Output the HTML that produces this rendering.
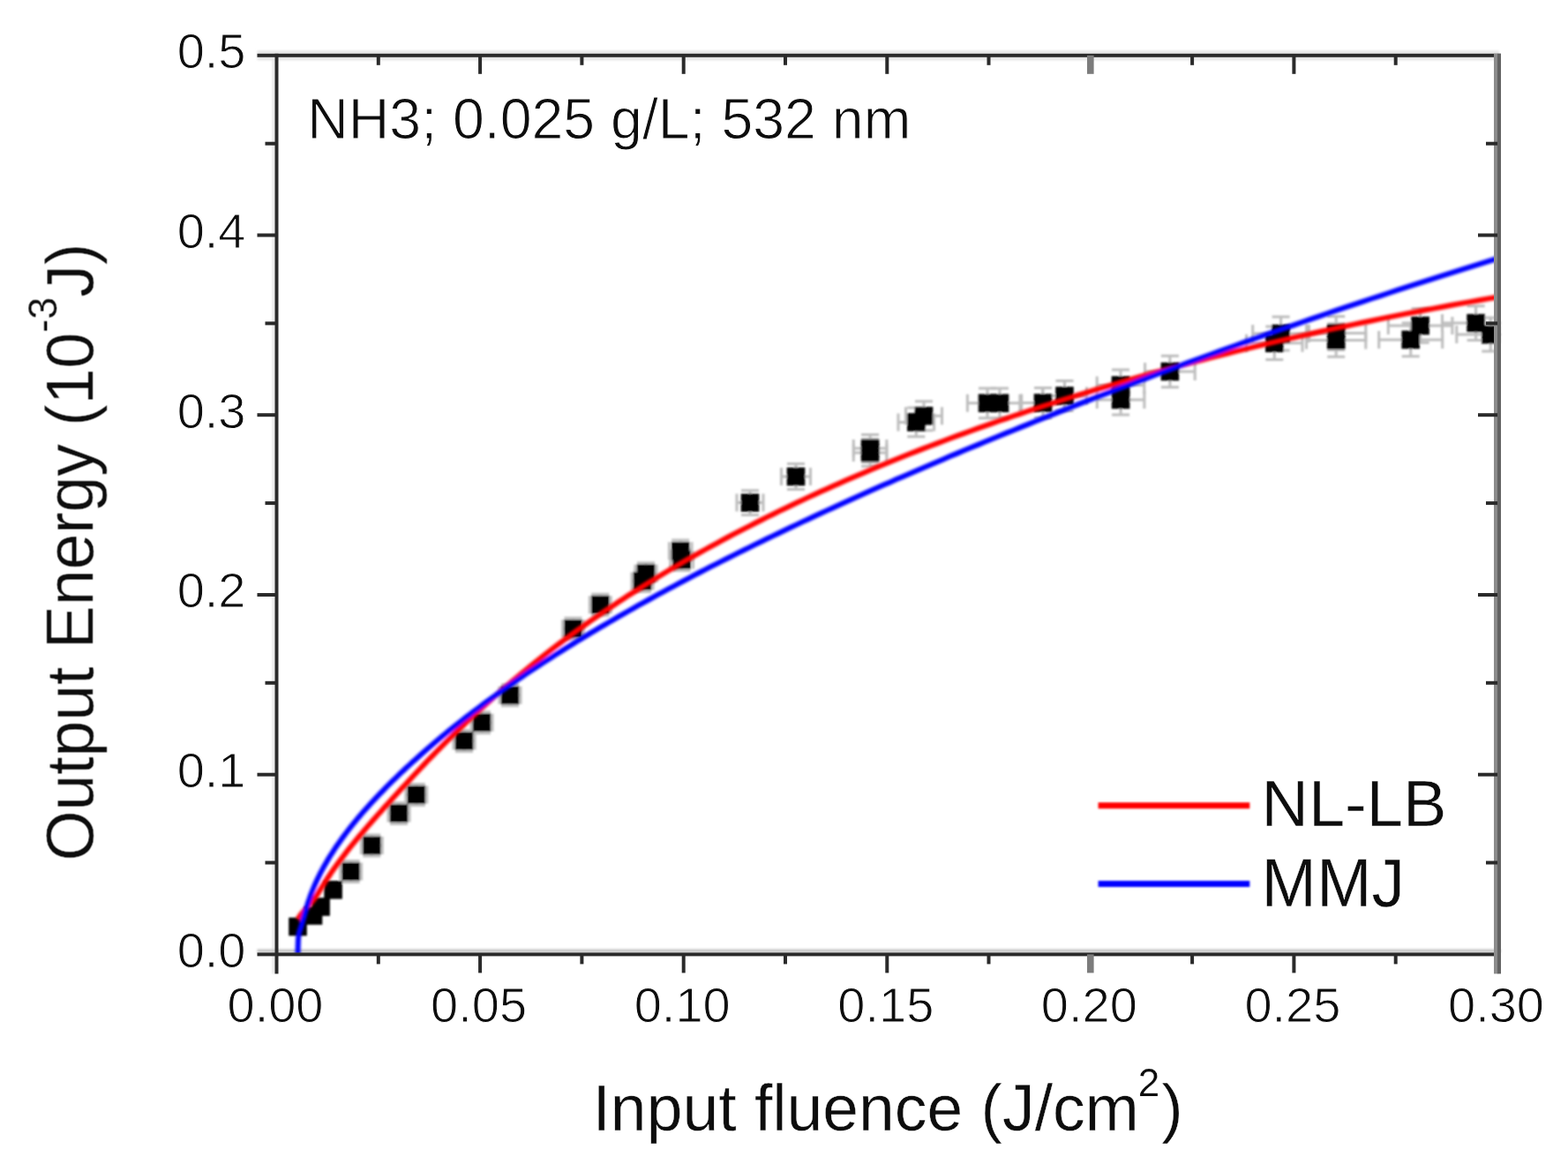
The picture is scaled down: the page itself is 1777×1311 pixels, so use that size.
<!DOCTYPE html>
<html lang="en"><head><meta charset="utf-8"><title>Output Energy vs Input fluence</title>
<style>html,body{margin:0;padding:0;background:#fff;}body{width:1777px;height:1311px;overflow:hidden;}svg{display:block;}text{font-family:"Liberation Sans",sans-serif;fill:#0a0a0a;stroke:#fff;stroke-linejoin:round;}.tk{stroke-width:1px}.tt{stroke-width:1px}.lb{stroke-width:.4px}.lg{stroke-width:.4px}.sp{stroke-width:.2px}</style></head><body>
<svg width="1777" height="1311" viewBox="0 0 1777 1311">
<defs><filter id="cv" x="-5%" y="-5%" width="110%" height="110%"><feGaussianBlur stdDeviation="1.4"/></filter><filter id="a" x="-5%" y="-5%" width="110%" height="110%"><feGaussianBlur stdDeviation="0.7"/></filter><filter id="t" x="-5%" y="-5%" width="110%" height="110%"><feGaussianBlur stdDeviation="0.7"/></filter><filter id="b" x="-5%" y="-5%" width="110%" height="110%"><feGaussianBlur stdDeviation="1.1"/></filter><clipPath id="c"><rect x="311" y="60" width="1390" height="1024"/></clipPath><clipPath id="c2"><rect x="311" y="60" width="1386" height="1021"/></clipPath></defs>
<rect width="1777" height="1311" fill="#fff"/>
<g filter="url(#b)">
<rect x="308.5" y="60.8" width="3" height="1042.6" fill="#e6e6e6"/>
<rect x="291.5" y="57.3" width="1407.5" height="11" fill="#e6e6e6"/>
<rect x="291.5" y="1075.4" width="1409.5" height="4" fill="#c8c8c8"/>
</g>
<g filter="url(#b)">
<g stroke="#bdbdbd" stroke-width="3" fill="none" clip-path="url(#c)">
<path d="M385.6,987.5H409.6M385.6,977.5v20M409.6,977.5v20"/>
<path d="M397.6,975.5V999.5M387.6,975.5h20M387.6,999.5h20"/>
<path d="M409.3,958.0H433.3M409.3,948.0v20M433.3,948.0v20"/>
<path d="M421.3,946.0V970.0M411.3,946.0h20M411.3,970.0h20"/>
<path d="M440.0,921.5H464.0M440.0,911.5v20M464.0,911.5v20"/>
<path d="M452.0,909.5V933.5M442.0,909.5h20M442.0,933.5h20"/>
<path d="M459.8,900.5H483.8M459.8,890.5v20M483.8,890.5v20"/>
<path d="M471.8,888.5V912.5M461.8,888.5h20M461.8,912.5h20"/>
<path d="M514.0,839.5H538.0M514.0,829.5v20M538.0,829.5v20"/>
<path d="M526.0,827.5V851.5M516.0,827.5h20M516.0,851.5h20"/>
<path d="M534.0,818.7H558.0M534.0,808.7v20M558.0,808.7v20"/>
<path d="M546.0,806.7V830.7M536.0,806.7h20M536.0,830.7h20"/>
<path d="M566.0,787.8H590.0M566.0,777.8v20M590.0,777.8v20"/>
<path d="M578.0,775.8V799.8M568.0,775.8h20M568.0,799.8h20"/>
<path d="M637.5,712.3H661.5M637.5,702.3v20M661.5,702.3v20"/>
<path d="M649.5,700.3V724.3M639.5,700.3h20M639.5,724.3h20"/>
<path d="M668.3,685.2H692.3M668.3,675.2v20M692.3,675.2v20"/>
<path d="M680.3,673.2V697.2M670.3,673.2h20M670.3,697.2h20"/>
<path d="M720.0,649.7H744.0M720.0,639.7v20M744.0,639.7v20"/>
<path d="M732.0,637.7V661.7M722.0,637.7h20M722.0,661.7h20"/>
<path d="M716.0,658.4H740.0M716.0,648.4v20M740.0,648.4v20"/>
<path d="M728.0,646.4V670.4M718.0,646.4h20M718.0,670.4h20"/>
<path d="M758.4,624.3H784.0M758.4,614.3v20M784.0,614.3v20"/>
<path d="M771.2,612.0V636.6M761.2,612.0h20M761.2,636.6h20"/>
<path d="M759.7,634.5H785.5M759.7,624.5v20M785.5,624.5v20"/>
<path d="M772.6,622.4V646.6M762.6,622.4h20M762.6,646.6h20"/>
<path d="M835.0,569.6H865.0M835.0,559.6v20M865.0,559.6v20"/>
<path d="M850.0,555.8V583.4M840.0,555.8h20M840.0,583.4h20"/>
<path d="M885.5,540.0H918.5M885.5,530.0v20M918.5,530.0v20"/>
<path d="M902.0,525.4V554.6M892.0,525.4h20M892.0,554.6h20"/>
<path d="M967.3,508.0H1004.9M967.3,498.0v20M1004.9,498.0v20"/>
<path d="M986.1,492.5V523.5M976.1,492.5h20M976.1,523.5h20"/>
<path d="M967.3,513.0H1004.9M967.3,503.0v20M1004.9,503.0v20"/>
<path d="M986.1,497.7V528.3M976.1,497.7h20M976.1,528.3h20"/>
<path d="M1018.0,478.4H1058.6M1018.0,468.4v20M1058.6,468.4v20"/>
<path d="M1038.3,462.1V494.7M1028.3,462.1h20M1028.3,494.7h20"/>
<path d="M1026.5,471.2H1067.5M1026.5,461.2v20M1067.5,461.2v20"/>
<path d="M1047.0,454.7V487.7M1037.0,454.7h20M1037.0,487.7h20"/>
<path d="M1096.4,456.8H1141.6M1096.4,446.8v20M1141.6,446.8v20"/>
<path d="M1119.0,439.9V473.7M1109.0,439.9h20M1109.0,473.7h20"/>
<path d="M1110.1,456.8H1155.9M1110.1,446.8v20M1155.9,446.8v20"/>
<path d="M1133.0,439.9V473.7M1123.0,439.9h20M1123.0,473.7h20"/>
<path d="M1157.7,456.5H1206.3M1157.7,446.5v20M1206.3,446.5v20"/>
<path d="M1182.0,439.6V473.4M1172.0,439.6h20M1172.0,473.4h20"/>
<path d="M1181.5,448.5H1231.5M1181.5,438.5v20M1231.5,438.5v20"/>
<path d="M1206.5,431.4V465.6M1196.5,431.4h20M1196.5,465.6h20"/>
<path d="M1243.2,436.5H1296.8M1243.2,426.5v20M1296.8,426.5v20"/>
<path d="M1270.0,419.1V453.9M1260.0,419.1h20M1260.0,453.9h20"/>
<path d="M1243.3,452.9H1296.9M1243.3,442.9v20M1296.9,442.9v20"/>
<path d="M1270.1,435.9V469.9M1260.1,435.9h20M1260.1,469.9h20"/>
<path d="M1297.6,421.0H1354.2M1297.6,411.0v20M1354.2,411.0v20"/>
<path d="M1325.9,403.2V438.8M1315.9,403.2h20M1315.9,438.8h20"/>
<path d="M1419.7,378.0H1483.5M1419.7,368.0v20M1483.5,368.0v20"/>
<path d="M1451.6,359.0V397.0M1441.6,359.0h20M1441.6,397.0h20"/>
<path d="M1412.6,388.8H1476.0M1412.6,378.8v20M1476.0,378.8v20"/>
<path d="M1444.3,370.1V407.5M1434.3,370.1h20M1434.3,407.5h20"/>
<path d="M1480.6,377.5H1547.8M1480.6,367.5v20M1547.8,367.5v20"/>
<path d="M1514.2,358.5V396.5M1504.2,358.5h20M1504.2,396.5h20"/>
<path d="M1480.6,385.5H1547.8M1480.6,375.5v20M1547.8,375.5v20"/>
<path d="M1514.2,366.7V404.3M1504.2,366.7h20M1504.2,404.3h20"/>
<path d="M1573.3,369.0H1645.9M1573.3,359.0v20M1645.9,359.0v20"/>
<path d="M1609.6,349.8V388.2M1599.6,349.8h20M1599.6,388.2h20"/>
<path d="M1562.7,384.9H1634.7M1562.7,374.9v20M1634.7,374.9v20"/>
<path d="M1598.7,366.1V403.7M1588.7,366.1h20M1588.7,403.7h20"/>
<path d="M1634.5,366.1H1710.7M1634.5,356.1v20M1710.7,356.1v20"/>
<path d="M1672.6,346.8V385.4M1662.6,346.8h20M1662.6,385.4h20"/>
<path d="M1650.8,379.1H1727.8M1650.8,369.1v20M1727.8,369.1v20"/>
<path d="M1689.3,360.1V398.1M1679.3,360.1h20M1679.3,398.1h20"/>
</g>
<g fill="#000" clip-path="url(#c)">
<rect x="327.2" y="1039.7" width="20.6" height="20.6"/>
<rect x="344.7" y="1027.2" width="20.6" height="20.6"/>
<rect x="353.3" y="1017.2" width="20.6" height="20.6"/>
<rect x="367.3" y="998.0" width="20.6" height="20.6"/>
<rect x="387.3" y="977.2" width="20.6" height="20.6"/>
<rect x="411.0" y="947.7" width="20.6" height="20.6"/>
<rect x="441.7" y="911.2" width="20.6" height="20.6"/>
<rect x="461.5" y="890.2" width="20.6" height="20.6"/>
<rect x="515.7" y="829.2" width="20.6" height="20.6"/>
<rect x="535.7" y="808.4" width="20.6" height="20.6"/>
<rect x="567.7" y="777.5" width="20.6" height="20.6"/>
<rect x="639.2" y="702.0" width="20.6" height="20.6"/>
<rect x="670.0" y="674.9" width="20.6" height="20.6"/>
<rect x="721.7" y="639.4" width="20.6" height="20.6"/>
<rect x="717.7" y="648.1" width="20.6" height="20.6"/>
<rect x="760.9" y="614.0" width="20.6" height="20.6"/>
<rect x="762.3" y="624.2" width="20.6" height="20.6"/>
<rect x="839.7" y="559.3" width="20.6" height="20.6"/>
<rect x="891.7" y="529.7" width="20.6" height="20.6"/>
<rect x="975.8" y="497.7" width="20.6" height="20.6"/>
<rect x="975.8" y="502.7" width="20.6" height="20.6"/>
<rect x="1028.0" y="468.1" width="20.6" height="20.6"/>
<rect x="1036.7" y="460.9" width="20.6" height="20.6"/>
<rect x="1108.7" y="446.5" width="20.6" height="20.6"/>
<rect x="1122.7" y="446.5" width="20.6" height="20.6"/>
<rect x="1171.7" y="446.2" width="20.6" height="20.6"/>
<rect x="1196.2" y="438.2" width="20.6" height="20.6"/>
<rect x="1259.7" y="426.2" width="20.6" height="20.6"/>
<rect x="1259.8" y="442.6" width="20.6" height="20.6"/>
<rect x="1315.6" y="410.7" width="20.6" height="20.6"/>
<rect x="1441.3" y="367.7" width="20.6" height="20.6"/>
<rect x="1434.0" y="378.5" width="20.6" height="20.6"/>
<rect x="1503.9" y="367.2" width="20.6" height="20.6"/>
<rect x="1503.9" y="375.2" width="20.6" height="20.6"/>
<rect x="1599.3" y="358.7" width="20.6" height="20.6"/>
<rect x="1588.4" y="374.6" width="20.6" height="20.6"/>
<rect x="1662.3" y="355.8" width="20.6" height="20.6"/>
<rect x="1679.0" y="368.8" width="20.6" height="20.6"/>
</g>
</g>
<g filter="url(#cv)"><g clip-path="url(#c2)">
<path d="M337.5,1041.6 L337.5,1041.6 L337.6,1041.5 L337.7,1041.3 L337.8,1041.1 L338.0,1040.8 L338.2,1040.4 L338.5,1040.0 L338.8,1039.5 L339.1,1039.0 L339.5,1038.4 L340.0,1037.8 L340.4,1037.1 L340.9,1036.4 L341.5,1035.7 L342.1,1035.0 L342.7,1034.2 L343.4,1033.4 L344.1,1032.6 L344.8,1031.7 L345.6,1030.8 L346.4,1029.9 L347.3,1028.9 L348.2,1027.9 L349.2,1026.9 L350.2,1025.8 L351.2,1024.7 L352.3,1023.4 L353.4,1022.1 L354.5,1020.7 L355.7,1019.1 L357.0,1017.5 L358.3,1015.6 L359.6,1013.6 L360.9,1011.5 L362.3,1009.2 L363.8,1006.9 L365.2,1004.5 L366.8,1002.0 L368.3,999.5 L369.9,997.0 L371.6,994.5 L373.3,992.0 L375.0,989.4 L376.7,986.9 L378.5,984.3 L380.4,981.7 L382.3,979.1 L384.2,976.5 L386.2,973.9 L388.2,971.2 L390.2,968.6 L392.3,965.9 L394.4,963.2 L396.6,960.4 L398.8,957.7 L401.1,954.9 L403.3,952.1 L405.7,949.3 L408.0,946.5 L410.5,943.6 L412.9,940.8 L415.4,937.9 L417.9,934.9 L420.5,932.0 L423.1,929.0 L425.8,926.0 L428.5,922.9 L431.2,919.9 L434.0,916.8 L436.8,913.6 L439.7,910.5 L442.6,907.3 L445.5,904.0 L448.5,900.8 L451.5,897.5 L454.6,894.1 L457.7,890.8 L460.8,887.4 L464.0,883.9 L467.2,880.5 L470.5,877.0 L473.8,873.5 L477.1,870.0 L480.5,866.4 L483.9,862.8 L487.4,859.2 L490.9,855.6 L494.4,852.0 L498.0,848.3 L501.7,844.7 L505.3,841.0 L509.0,837.3 L512.8,833.6 L516.6,829.9 L520.4,826.2 L524.3,822.5 L528.2,818.7 L532.1,815.0 L536.1,811.3 L540.2,807.5 L544.2,803.8 L548.4,800.0 L552.5,796.3 L556.7,792.5 L560.9,788.8 L565.2,785.0 L569.5,781.3 L573.9,777.5 L578.3,773.8 L582.7,770.0 L587.2,766.3 L591.7,762.5 L596.3,758.8 L600.9,755.0 L605.5,751.3 L610.2,747.6 L614.9,743.9 L619.7,740.1 L624.5,736.4 L629.3,732.7 L634.2,729.0 L639.1,725.3 L644.1,721.7 L649.1,718.0 L654.2,714.3 L659.3,710.7 L664.4,707.0 L669.5,703.4 L674.8,699.8 L680.0,696.1 L685.3,692.5 L690.6,688.9 L696.0,685.4 L701.4,681.8 L706.9,678.2 L712.3,674.6 L717.9,671.1 L723.5,667.6 L729.1,664.0 L734.7,660.5 L740.4,657.0 L746.2,653.5 L751.9,650.0 L757.7,646.5 L763.6,643.1 L769.5,639.6 L775.4,636.2 L781.4,632.7 L787.4,629.3 L793.5,625.9 L799.6,622.5 L805.7,619.1 L811.9,615.8 L818.1,612.4 L824.4,609.0 L830.7,605.7 L837.1,602.4 L843.4,599.1 L849.9,595.8 L856.3,592.5 L862.8,589.2 L869.4,585.9 L876.0,582.7 L882.6,579.4 L889.3,576.2 L896.0,573.0 L902.7,569.8 L909.5,566.6 L916.3,563.4 L923.2,560.2 L930.1,557.1 L937.1,553.9 L944.1,550.8 L951.1,547.7 L958.2,544.6 L965.3,541.5 L972.4,538.4 L979.6,535.4 L986.9,532.3 L994.1,529.3 L1001.5,526.3 L1008.8,523.3 L1016.2,520.3 L1023.6,517.3 L1031.1,514.3 L1038.6,511.4 L1046.2,508.4 L1053.8,505.5 L1061.4,502.6 L1069.1,499.7 L1076.8,496.8 L1084.6,493.9 L1092.4,491.1 L1100.3,488.2 L1108.1,485.4 L1116.1,482.6 L1124.0,479.8 L1132.0,477.0 L1140.1,474.3 L1148.2,471.5 L1156.3,468.8 L1164.5,466.0 L1172.7,463.3 L1180.9,460.6 L1189.2,458.0 L1197.5,455.3 L1205.9,452.6 L1214.3,450.0 L1222.8,447.4 L1231.3,444.8 L1239.8,442.2 L1248.4,439.6 L1257.0,437.1 L1265.6,434.5 L1274.3,432.0 L1283.1,429.5 L1291.8,427.0 L1300.6,424.5 L1309.5,422.0 L1318.4,419.6 L1327.3,417.1 L1336.3,414.7 L1345.3,412.3 L1354.4,409.9 L1363.5,407.5 L1372.6,405.2 L1381.8,402.8 L1391.0,400.5 L1400.3,398.2 L1409.6,395.9 L1418.9,393.6 L1428.3,391.4 L1437.8,389.1 L1447.2,386.9 L1456.7,384.7 L1466.3,382.5 L1475.9,380.3 L1485.5,378.2 L1495.1,376.0 L1504.9,373.9 L1514.6,371.8 L1524.4,369.7 L1534.2,367.6 L1544.1,365.5 L1554.0,363.5 L1564.0,361.4 L1573.9,359.4 L1584.0,357.4 L1594.0,355.4 L1604.2,353.5 L1614.3,351.5 L1624.5,349.6 L1634.7,347.7 L1645.0,345.8 L1655.3,343.9 L1665.7,342.1 L1676.1,340.2 L1686.5,338.4 L1697.0,336.6" fill="none" stroke="#ff0000" stroke-width="6" stroke-linejoin="round"/>
<path d="M337.1,1121.7 L337.1,1116.7 L337.1,1106.1 L337.2,1094.9 L337.4,1084.8 L337.6,1076.5 L337.8,1069.8 L338.0,1064.7 L338.3,1061.0 L338.7,1058.3 L339.1,1056.4 L339.5,1054.9 L340.0,1053.7 L340.5,1052.3 L341.0,1050.6 L341.6,1048.7 L342.2,1046.5 L342.9,1044.2 L343.6,1041.6 L344.4,1039.0 L345.2,1036.1 L346.0,1033.2 L346.9,1030.2 L347.8,1027.2 L348.7,1024.1 L349.7,1021.0 L350.8,1018.0 L351.8,1015.0 L352.9,1012.0 L354.1,1009.0 L355.3,1006.1 L356.5,1003.2 L357.8,1000.3 L359.1,997.4 L360.5,994.6 L361.9,991.7 L363.3,988.9 L364.8,986.1 L366.3,983.3 L367.9,980.5 L369.5,977.7 L371.1,974.9 L372.8,972.1 L374.5,969.3 L376.3,966.6 L378.1,963.8 L379.9,961.0 L381.8,958.2 L383.8,955.4 L385.7,952.7 L387.7,949.9 L389.8,947.1 L391.9,944.3 L394.0,941.5 L396.2,938.7 L398.4,935.9 L400.6,933.2 L402.9,930.4 L405.2,927.5 L407.6,924.7 L410.0,921.9 L412.5,919.1 L415.0,916.3 L417.5,913.5 L420.1,910.6 L422.7,907.8 L425.4,904.9 L428.1,902.0 L430.8,899.2 L433.6,896.3 L436.4,893.4 L439.2,890.5 L442.1,887.6 L445.1,884.7 L448.1,881.8 L451.1,878.9 L454.1,875.9 L457.3,873.0 L460.4,870.0 L463.6,867.1 L466.8,864.1 L470.1,861.2 L473.4,858.2 L476.7,855.2 L480.1,852.2 L483.5,849.2 L487.0,846.2 L490.5,843.2 L494.0,840.2 L497.6,837.2 L501.3,834.2 L504.9,831.2 L508.6,828.2 L512.4,825.2 L516.2,822.1 L520.0,819.1 L523.9,816.0 L527.8,813.0 L531.8,810.0 L535.7,806.9 L539.8,803.9 L543.9,800.8 L548.0,797.7 L552.1,794.7 L556.3,791.6 L560.6,788.6 L564.8,785.5 L569.2,782.4 L573.5,779.3 L577.9,776.3 L582.4,773.2 L586.8,770.1 L591.4,767.0 L595.9,763.9 L600.5,760.8 L605.2,757.8 L609.8,754.7 L614.6,751.6 L619.3,748.5 L624.1,745.4 L629.0,742.3 L633.9,739.2 L638.8,736.1 L643.8,733.0 L648.8,729.9 L653.8,726.8 L658.9,723.7 L664.0,720.6 L669.2,717.4 L674.4,714.3 L679.7,711.2 L685.0,708.1 L690.3,705.0 L695.7,701.9 L701.1,698.7 L706.5,695.6 L712.0,692.5 L717.6,689.4 L723.1,686.2 L728.7,683.1 L734.4,680.0 L740.1,676.8 L745.8,673.7 L751.6,670.6 L757.4,667.4 L763.3,664.3 L769.2,661.1 L775.1,658.0 L781.1,654.9 L787.1,651.7 L793.2,648.5 L799.3,645.4 L805.4,642.2 L811.6,639.1 L817.9,635.9 L824.1,632.8 L830.4,629.6 L836.8,626.4 L843.2,623.2 L849.6,620.1 L856.0,616.9 L862.6,613.7 L869.1,610.5 L875.7,607.4 L882.3,604.2 L889.0,601.0 L895.7,597.8 L902.5,594.6 L909.2,591.4 L916.1,588.2 L922.9,585.0 L929.9,581.8 L936.8,578.6 L943.8,575.4 L950.8,572.2 L957.9,569.0 L965.0,565.7 L972.2,562.5 L979.4,559.3 L986.6,556.1 L993.9,552.8 L1001.2,549.6 L1008.6,546.4 L1016.0,543.1 L1023.4,539.9 L1030.9,536.7 L1038.4,533.4 L1046.0,530.2 L1053.6,526.9 L1061.2,523.7 L1068.9,520.4 L1076.6,517.1 L1084.4,513.9 L1092.2,510.6 L1100.1,507.3 L1107.9,504.1 L1115.9,500.8 L1123.8,497.5 L1131.8,494.2 L1139.9,490.9 L1148.0,487.7 L1156.1,484.4 L1164.3,481.1 L1172.5,477.8 L1180.7,474.5 L1189.0,471.2 L1197.4,467.9 L1205.7,464.6 L1214.2,461.2 L1222.6,457.9 L1231.1,454.6 L1239.6,451.3 L1248.2,448.0 L1256.8,444.7 L1265.5,441.3 L1274.2,438.0 L1282.9,434.7 L1291.7,431.4 L1300.5,428.1 L1309.4,424.7 L1318.3,421.4 L1327.2,418.1 L1336.2,414.8 L1345.2,411.4 L1354.3,408.1 L1363.4,404.8 L1372.5,401.5 L1381.7,398.1 L1390.9,394.8 L1400.2,391.5 L1409.5,388.2 L1418.9,384.8 L1428.2,381.5 L1437.7,378.2 L1447.1,374.9 L1456.6,371.6 L1466.2,368.3 L1475.8,365.0 L1485.4,361.6 L1495.1,358.3 L1504.8,355.0 L1514.5,351.7 L1524.3,348.4 L1534.2,345.1 L1544.0,341.8 L1554.0,338.5 L1563.9,335.3 L1573.9,332.0 L1583.9,328.7 L1594.0,325.4 L1604.1,322.1 L1614.3,318.9 L1624.5,315.6 L1634.7,312.3 L1645.0,309.1 L1655.3,305.8 L1665.7,302.6 L1676.1,299.3 L1686.5,296.1 L1697.0,292.9" fill="none" stroke="#0000ff" stroke-width="6" stroke-linejoin="round"/>
</g>
</g>
<g fill="#2b2b2b" filter="url(#a)">
<rect x="311.5" y="60.8" width="4" height="1042.6"/>
<rect x="291.5" y="60.8" width="1409.5" height="4"/>
<rect x="291.5" y="1079.4" width="1409.5" height="4"/>
<rect x="1693.0" y="60.8" width="4.4" height="1042.6" fill="#8c8c8c"/>
<rect x="1697.0" y="60.8" width="4" height="1042.6" fill="#626262"/>
<rect x="426.8" y="1081.4" width="4" height="11"/>
<rect x="426.8" y="62.8" width="4" height="11"/>
<rect x="542.1" y="1081.4" width="4" height="21"/>
<rect x="542.1" y="62.8" width="4" height="21"/>
<rect x="657.4" y="1081.4" width="4" height="11"/>
<rect x="657.4" y="62.8" width="4" height="11"/>
<rect x="772.7" y="1081.4" width="4" height="21"/>
<rect x="772.7" y="62.8" width="4" height="21"/>
<rect x="888.0" y="1081.4" width="4" height="11"/>
<rect x="888.0" y="62.8" width="4" height="11"/>
<rect x="1003.3" y="1081.4" width="4" height="21"/>
<rect x="1003.3" y="62.8" width="4" height="21"/>
<rect x="1118.5" y="1081.4" width="4" height="11"/>
<rect x="1118.5" y="62.8" width="4" height="11"/>
<rect x="1232.0" y="1081.4" width="7.6" height="21" fill="#7c7c7c"/>
<rect x="1232.0" y="62.8" width="7.6" height="21" fill="#7c7c7c"/>
<rect x="1349.1" y="1081.4" width="4" height="11"/>
<rect x="1349.1" y="62.8" width="4" height="11"/>
<rect x="1464.4" y="1081.4" width="4" height="21"/>
<rect x="1464.4" y="62.8" width="4" height="21"/>
<rect x="1579.7" y="1081.4" width="4" height="11"/>
<rect x="1579.7" y="62.8" width="4" height="11"/>
<rect x="300.5" y="975.5" width="13" height="4"/>
<rect x="1684.0" y="975.5" width="13" height="4"/>
<rect x="291.5" y="875.7" width="22" height="4"/>
<rect x="1675.0" y="875.7" width="22" height="4"/>
<rect x="300.5" y="771.8" width="13" height="4"/>
<rect x="1684.0" y="771.8" width="13" height="4"/>
<rect x="291.5" y="672.0" width="22" height="4"/>
<rect x="1675.0" y="672.0" width="22" height="4"/>
<rect x="300.5" y="568.1" width="13" height="4"/>
<rect x="1684.0" y="568.1" width="13" height="4"/>
<rect x="291.5" y="468.2" width="22" height="4"/>
<rect x="1675.0" y="468.2" width="22" height="4"/>
<rect x="300.5" y="364.4" width="13" height="4"/>
<rect x="1684.0" y="364.4" width="13" height="4"/>
<rect x="291.5" y="264.5" width="22" height="4"/>
<rect x="1675.0" y="264.5" width="22" height="4"/>
<rect x="300.5" y="160.7" width="13" height="4"/>
<rect x="1684.0" y="160.7" width="13" height="4"/>
</g>
<g filter="url(#b)">
<path d="M1244.6,912.7H1416.3" stroke="#ff0000" stroke-width="7"/>
<path d="M1244.6,1001.6H1416.3" stroke="#0000ff" stroke-width="7"/>
</g>
<g filter="url(#t)">
<text x="278.5" y="1095.8" class="tk" font-size="56" text-anchor="end">0.0</text>
<text x="278.5" y="892.1" class="tk" font-size="56" text-anchor="end">0.1</text>
<text x="278.5" y="688.4" class="tk" font-size="56" text-anchor="end">0.2</text>
<text x="278.5" y="484.6" class="tk" font-size="56" text-anchor="end">0.3</text>
<text x="278.5" y="280.9" class="tk" font-size="56" text-anchor="end">0.4</text>
<text x="278.5" y="77.2" class="tk" font-size="56" text-anchor="end">0.5</text>
<text x="312.0" y="1158" class="tk" font-size="56" text-anchor="middle">0.00</text>
<text x="542.6" y="1158" class="tk" font-size="56" text-anchor="middle">0.05</text>
<text x="773.2" y="1158" class="tk" font-size="56" text-anchor="middle">0.10</text>
<text x="1003.8" y="1158" class="tk" font-size="56" text-anchor="middle">0.15</text>
<text x="1234.3" y="1158" class="tk" font-size="56" text-anchor="middle">0.20</text>
<text x="1464.9" y="1158" class="tk" font-size="56" text-anchor="middle">0.25</text>
<text x="1695.5" y="1158" class="tk" font-size="56" text-anchor="middle">0.30</text>
<text class="tt" x="348.3" y="156.8" font-size="64" textLength="684" lengthAdjust="spacingAndGlyphs">NH3; 0.025 g/L; 532 nm</text>
<text class="lg" x="1429.5" y="936.2" font-size="74">NL-LB</text>
<text class="lg" transform="translate(1429.5,1027.2) scale(1,1.03)" font-size="75">MMJ</text>
<text class="lb" x="671.5" y="1281.2" font-size="73.3">Input fluence (J/cm<tspan class="sp" font-size="44" dy="-39" dx="-1">2</tspan><tspan class="lb" dy="39" dx="2">)</tspan></text>
<text class="lb" transform="translate(105.2,975.5) rotate(-90) scale(0.977,1.01)" font-size="75">Output Energy (10<tspan class="sp" font-size="46" dy="-40">-3</tspan><tspan class="lb" dy="40">J)</tspan></text>
</g>
</svg></body></html>
